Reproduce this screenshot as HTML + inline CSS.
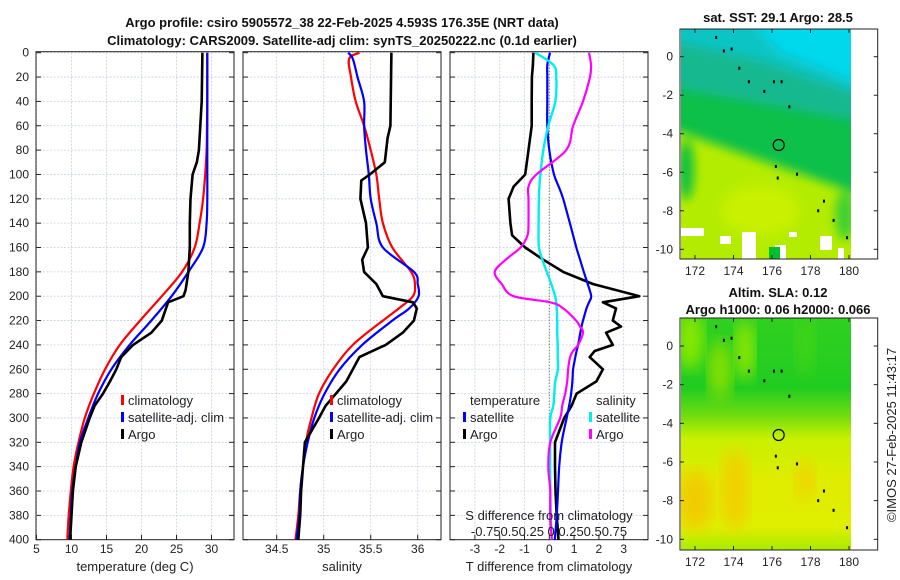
<!DOCTYPE html>
<html><head><meta charset="utf-8">
<style>
html,body{margin:0;padding:0;background:#fff;}
svg{display:block;font-family:"Liberation Sans","DejaVu Sans",sans-serif;}
</style></head>
<body>
<svg id="chart" width="900" height="580" viewBox="0 0 900 580" xmlns="http://www.w3.org/2000/svg">
<defs>
<linearGradient id="slaGrad" x1="0" y1="318" x2="0" y2="550" gradientUnits="userSpaceOnUse">
<stop offset="0" stop-color="#30d020"/>
<stop offset="0.3" stop-color="#20cc20"/>
<stop offset="0.42" stop-color="#70dc10"/>
<stop offset="0.52" stop-color="#c8f000"/>
<stop offset="0.7" stop-color="#e0ec00"/>
<stop offset="0.9" stop-color="#e0ee00"/>
<stop offset="1" stop-color="#a8ec00"/>
</linearGradient>
<filter id="blur8"><feGaussianBlur stdDeviation="8"/></filter>
<filter id="blur5"><feGaussianBlur stdDeviation="5"/></filter>
<clipPath id="clipMap2"><rect x="681" y="318" width="170" height="232"/></clipPath>
<clipPath id="clipMap1"><rect x="681" y="29" width="170" height="230"/></clipPath>
</defs>
<g id="layer"></g>
</svg>
<script>
// ===== Data =====
var depthsT = [0,20,40,60,80,100,120,140,160,180,200,220,240,260,280,300,320,340,360,380,400];
var tempClim = [29.4,29.4,29.4,29.35,29.3,29.1,28.8,28.3,27.6,25.8,22.9,19.8,16.9,14.8,13.2,11.9,11.0,10.3,9.9,9.6,9.4];
var tempSat  = [29.4,29.4,29.4,29.4,29.4,29.4,29.4,29.3,28.8,26.7,24.3,21.4,18.3,15.7,13.8,12.4,11.2,10.6,10.1,9.9,9.7];
var depthsArgoT = [0,40,60,80,90,100,120,140,160,180,195,200,205,220,230,240,250,260,270,280,290,300,320,340,360,380,400];
var tempArgo = [28.7,28.6,28.4,28.2,27.9,27.3,27.0,26.9,26.9,26.7,26.3,26.0,23.8,22.9,21.4,18.8,17.1,16.4,15.5,14.5,13.3,12.6,11.4,10.6,10.2,10.0,9.8];

var depthsS = [0,5,20,40,60,80,100,120,140,160,180,190,200,210,220,240,260,280,300,320,340,360,380,400];
var salClim = [35.38,35.27,35.29,35.34,35.43,35.50,35.56,35.59,35.63,35.73,35.93,35.97,35.95,35.80,35.63,35.31,35.10,34.95,34.87,34.81,34.78,34.75,34.73,34.70];
var salSat  = [35.26,35.31,35.36,35.43,35.43,35.45,35.48,35.50,35.56,35.63,35.96,36.00,36.01,35.91,35.73,35.41,35.17,35.01,34.90,34.83,34.78,34.75,34.74,34.71];
var depthsArgoS = [0,60,70,90,100,105,120,140,160,170,180,190,200,205,210,220,230,240,250,270,290,300,320,340,360,380,400];
var salArgo = [35.72,35.71,35.68,35.65,35.49,35.40,35.39,35.45,35.47,35.41,35.43,35.56,35.63,35.95,35.99,35.96,35.84,35.66,35.38,35.24,35.02,34.95,34.80,34.78,34.76,34.75,34.73];

var depthsD = [0,10,20,40,60,80,100,110,120,140,150,160,170,180,190,200,205,210,220,225,230,240,245,250,260,270,280,290,300,320,340,360,380,400];
var tDiffSat = [0.03,-0.08,-0.08,-0.08,-0.08,0,0.19,0.38,0.56,0.83,0.96,1.09,1.24,1.39,1.55,1.69,1.6,1.5,1.36,1.3,1.25,1.16,1.1,1.05,0.96,0.93,0.88,0.8,0.7,0.5,0.4,0.35,0.3,0.22];
var tDiffArgo = [-0.64,-0.66,-0.70,-0.71,-0.71,-0.84,-0.97,-1.44,-1.64,-1.57,-1.5,-0.97,-0.24,0.56,1.76,3.63,2.16,2.69,2.56,2.89,2.29,2.56,1.83,1.63,2.16,1.9,1.1,0.9,0.6,0.23,0.23,0.25,0.3,0.37];
var sDiffSat = [-0.14,0.04,0.07,0.06,-0.01,-0.06,-0.09,-0.10,-0.105,-0.108,-0.108,-0.105,-0.07,-0.025,0.02,0.058,0.07,0.075,0.08,0.08,0.08,0.085,0.085,0.085,0.087,0.06,0.05,0.04,0.01,0.008,0.008,0.01,0.015,0.025];
var sDiffArgo = [0.40,0.42,0.41,0.34,0.24,0.17,-0.13,-0.21,-0.21,-0.21,-0.22,-0.29,-0.44,-0.55,-0.48,-0.36,0.01,0.14,0.27,0.31,0.34,0.29,0.24,0.21,0.19,0.18,0.16,0.13,0.11,0.01,-0.01,0.01,0.01,0.025];

var depthTicks = [0,20,40,60,80,100,120,140,160,180,200,220,240,260,280,300,320,340,360,380,400];
var tempTicks = [5,10,15,20,25,30];
var salTicks = [34.5,35,35.5,36];
var tDiffTicks = [-3,-2,-1,0,1,2,3];
var mapLonTicks = [172,174,176,178,180];
var mapLatTicks = [0,-2,-4,-6,-8,-10];

// ===== Scales =====
var TOP=52.7, BOT=539.7;
function yD(d){ return TOP + d*(BOT-TOP)/400; }
function xT(t){ return 36.5 + (t-5)*7.0; }
function xS(s){ return 276.7 + (s-34.5)*94; }
function xTd(t){ return 549.3 + t*24.8; }
function xSd(s){ return 549.3 + s*4*24.8; }
function mapX(lon){ return 695 + (lon-172)*(849-695)/8; }
function map1Y(lat){ return 56.7 + (-lat)*(249.3-56.7)/10; }
function map2Y(lat){ return 346 + (-lat)*(539.3-346)/10; }

var NS="http://www.w3.org/2000/svg";
var layer=document.getElementById('layer');
function mk(tag, attrs, parent, text){
  var e=document.createElementNS(NS,tag);
  for(var k in attrs) e.setAttribute(k, attrs[k]);
  if(text!==undefined) e.textContent=text;
  (parent||layer).appendChild(e);
  return e;
}

var panels=[
  {x0:36,x1:234,name:'temperature-panel',ticks:tempTicks,xf:xT,label:'temperature (deg C)'},
  {x0:243,x1:441,name:'salinity-panel',ticks:salTicks,xf:xS,label:'salinity'},
  {x0:450,x1:648,name:'difference-panel',ticks:tDiffTicks,xf:xTd,label:'T difference from climatology'}
];

panels.forEach(function(p,pi){
  var g=mk('g',{});
  
  
  depthTicks.forEach(function(d){
    var l=mk('line',{x1:p.x0,x2:p.x1,y1:yD(d),y2:yD(d),stroke:'#c8d0e8','stroke-width':0.8,'stroke-dasharray':'2,1.5'},g);
    
    
    var t1=mk('line',{x1:p.x0,x2:p.x0+5,y1:yD(d),y2:yD(d),stroke:'#222','stroke-width':1},g);
    
    
    var t2=mk('line',{x1:p.x1-5,x2:p.x1,y1:yD(d),y2:yD(d),stroke:'#222','stroke-width':1},g);
    
    
  });
  p.ticks.forEach(function(v){
    var x=p.xf(v);
    var gl=mk('line',{x1:x,x2:x,y1:TOP,y2:BOT,stroke:'#c8d0e8','stroke-width':0.8,'stroke-dasharray':'2,1.5'},g);
    
    
    var tk=mk('line',{x1:x,x2:x,y1:BOT,y2:BOT-5,stroke:'#222','stroke-width':1},g);
    
    
    var tl=mk('text',{x:x,y:553,'font-size':12,'text-anchor':'middle',fill:'#222'},g,String(v));
    
    
  });
  var fr=mk('rect',{x:p.x0,y:TOP-1,width:p.x1-p.x0,height:BOT-TOP+1,fill:'none',stroke:'#222','stroke-width':1},g);
  
  
  var xl=mk('text',{x:(p.x0+p.x1)/2,y:571,'font-size':13,'text-anchor':'middle',fill:'#222'},g,p.label);
  
  
});

depthTicks.forEach(function(d){
  var t=mk('text',{x:29,y:yD(d)+4,'font-size':12,'text-anchor':'end',fill:'#222'},layer,String(d));
  
  
});
var zl=mk('line',{x1:xTd(0),x2:xTd(0),y1:TOP,y2:BOT,stroke:'#555','stroke-width':1,'stroke-dasharray':'1,2'});



function drawLine(vals,depths,xf,color,w,name,smooth){
  var pts=[];
  for(var i=0;i<vals.length;i++) pts.push([xf(vals[i]),yD(depths[i])]);
  var d='M'+pts[0][0].toFixed(1)+','+pts[0][1].toFixed(1);
  for(var i=1;i<pts.length;i++){
    if(smooth){
      var p0=pts[Math.max(0,i-2)],p1=pts[i-1],p2=pts[i],p3=pts[Math.min(pts.length-1,i+1)];
      var c1x=p1[0]+(p2[0]-p0[0])/6,c1y=p1[1]+(p2[1]-p0[1])/6;
      var c2x=p2[0]-(p3[0]-p1[0])/6,c2y=p2[1]-(p3[1]-p1[1])/6;
      d+='C'+c1x.toFixed(1)+','+c1y.toFixed(1)+' '+c2x.toFixed(1)+','+c2y.toFixed(1)+' '+p2[0].toFixed(1)+','+p2[1].toFixed(1);
    } else d+='L'+pts[i][0].toFixed(1)+','+pts[i][1].toFixed(1);
  }
  var p=mk('path',{d:d,fill:'none',stroke:color,'stroke-width':w,'stroke-linejoin':'round'});
  
  
}
drawLine(tempClim,depthsT,xT,'#ff0000',2.2,'temp-climatology-line',true);
drawLine(tempSat,depthsT,xT,'#0000ff',2.2,'temp-satellite-line',true);
drawLine(tempArgo,depthsArgoT,xT,'#000',2.6,'temp-argo-line',false);
drawLine(salClim,depthsS,xS,'#ff0000',2.2,'sal-climatology-line',true);
drawLine(salSat,depthsS,xS,'#0000ff',2.2,'sal-satellite-line',true);
drawLine(salArgo,depthsArgoS,xS,'#000',2.6,'sal-argo-line',false);
drawLine(tDiffArgo,depthsD,xTd,'#000',2.6,'tdiff-argo-line',false);
drawLine(tDiffSat,depthsD,xTd,'#0000ff',2.2,'tdiff-satellite-line',true);
drawLine(sDiffSat,depthsD,xSd,'#00eeee',2.4,'sdiff-satellite-line',true);
drawLine(sDiffArgo,depthsD,xSd,'#ff00ff',2.2,'sdiff-argo-line',true);

function legendEntry(x,y,color,label,name){
  var g=mk('g',{});
  
  
  mk('rect',{x:x,y:y-10,width:3,height:10,fill:color},g);
  mk('text',{x:x+7,y:y,'font-size':13,fill:'#222'},g,label);
}
legendEntry(121,405,'#ff0000','climatology','legend-entry-climatology');
legendEntry(121,422,'#0000ff','satellite-adj. clim','legend-entry-satellite');
legendEntry(121,439,'#000','Argo','legend-entry-argo');
legendEntry(330,405,'#ff0000','climatology','legend-entry-climatology');
legendEntry(330,422,'#0000ff','satellite-adj. clim','legend-entry-satellite');
legendEntry(330,439,'#000','Argo','legend-entry-argo');
var lt=mk('text',{x:470,y:405,'font-size':13,fill:'#222'},layer,'temperature');


var ls=mk('text',{x:596,y:405,'font-size':13,fill:'#222'},layer,'salinity');


legendEntry(463,422,'#0000ff','satellite','legend-entry-t-satellite');
legendEntry(463,439,'#000','Argo','legend-entry-t-argo');
legendEntry(589,422,'#00eeee','satellite','legend-entry-s-satellite');
legendEntry(589,439,'#ff00ff','Argo','legend-entry-s-argo');
var sa=mk('text',{x:549,y:520,'font-size':13,'text-anchor':'middle',fill:'#222'},layer,'S difference from climatology');


var sl=mk('text',{x:549,y:536,'font-size':13,'text-anchor':'middle',fill:'#222'},layer,'-0.750.50.25 0 0.250.50.75');



var t1=mk('text',{x:342,y:27,'font-size':13,'font-weight':'bold','text-anchor':'middle',fill:'#111'},layer,'Argo profile: csiro 5905572_38 22-Feb-2025 4.593S 176.35E (NRT data)');


var t2=mk('text',{x:342,y:45,'font-size':13,'font-weight':'bold','text-anchor':'middle',fill:'#111'},layer,'Climatology: CARS2009. Satellite-adj clim: synTS_20250222.nc (0.1d earlier)');



// ===== Maps =====
var m1=mk('g',{});


var c1=mk('g',{'clip-path':'url(#clipMap1)'},m1);
mk('rect',{x:681,y:29,width:170,height:230,fill:'#b4ec00'},c1);
var bl=mk('g',{filter:'url(#blur5)'},c1);
mk('polygon',{points:'660,10 870,10 870,198 660,125',fill:'#08c048'},bl);
mk('polygon',{points:'660,10 870,10 870,122 660,85',fill:'#14b890'},bl);
mk('polygon',{points:'660,10 870,10 870,98 760,60 660,38',fill:'#10c4c4'},bl);
mk('polygon',{points:'740,10 870,10 870,88 780,52',fill:'#00d8ec'},bl);
mk('ellipse',{cx:686,cy:170,rx:8,ry:30,fill:'#10c040'},bl);
mk('ellipse',{cx:845,cy:215,rx:10,ry:25,fill:'#40d030'},bl);
mk('ellipse',{cx:760,cy:210,rx:40,ry:25,fill:'#c8f000'},bl);
mk('rect',{x:681,y:228,width:23,height:8,fill:'#fff'},c1);
mk('rect',{x:720,y:236,width:11,height:8,fill:'#fff'},c1);
mk('rect',{x:742,y:232,width:14,height:27,fill:'#fff'},c1);
mk('rect',{x:775,y:245,width:11,height:14,fill:'#fff'},c1);
mk('rect',{x:789,y:232,width:8,height:5,fill:'#fff'},c1);
mk('rect',{x:820,y:236,width:12,height:14,fill:'#fff'},c1);
mk('rect',{x:838,y:248,width:6,height:11,fill:'#fff'},c1);
mk('rect',{x:769,y:247,width:11,height:12,fill:'#00c030'},c1);
var ci1=mk('circle',{cx:778.7,cy:145,r:5.5,fill:'none',stroke:'#000','stroke-width':1.2},m1);


mk('rect',{x:680,y:29,width:197.7,height:230,fill:'none',stroke:'#222','stroke-width':1},m1);
var m1t=mk('text',{x:778,y:22,'font-size':13,'font-weight':'bold','text-anchor':'middle',fill:'#111'},layer,'sat. SST: 29.1 Argo: 28.5');



var m2=mk('g',{});


mk('rect',{x:681,y:318,width:170,height:232,fill:'url(#slaGrad)'},m2);
var c2=mk('g',{'clip-path':'url(#clipMap2)'},m2);
mk('ellipse',{cx:690,cy:340,rx:14,ry:30,fill:'#88e800',filter:'url(#blur8)'},c2);
mk('ellipse',{cx:720,cy:370,rx:12,ry:30,fill:'#88e000',filter:'url(#blur8)'},c2);
mk('ellipse',{cx:745,cy:350,rx:10,ry:30,fill:'#90e800',filter:'url(#blur8)'},c2);
mk('ellipse',{cx:805,cy:345,rx:10,ry:30,fill:'#40d418',filter:'url(#blur8)'},c2);
mk('ellipse',{cx:695,cy:500,rx:18,ry:30,fill:'#f0cc00',filter:'url(#blur8)'},c2);
mk('ellipse',{cx:735,cy:490,rx:14,ry:40,fill:'#f0d000',filter:'url(#blur8)'},c2);
mk('ellipse',{cx:805,cy:480,rx:10,ry:20,fill:'#eed400',filter:'url(#blur8)'},c2);
var ci2=mk('circle',{cx:778.7,cy:435,r:5.5,fill:'none',stroke:'#000','stroke-width':1.2},m2);


mk('rect',{x:680,y:318,width:197.7,height:232,fill:'none',stroke:'#222','stroke-width':1},m2);
var m2a=mk('text',{x:778,y:297,'font-size':13,'font-weight':'bold','text-anchor':'middle',fill:'#111'},layer,'Altim. SLA: 0.12');


var m2b=mk('text',{x:778,y:314,'font-size':13,'font-weight':'bold','text-anchor':'middle',fill:'#111'},layer,'Argo h1000: 0.06 h2000: 0.066');



var islandLon=[173.1,173.5,173.9,174.3,174.8,175.6,176.1,176.5,176.9,176.2,176.3,177.3,178.4,178.7,179.2,179.9];
var islandLat=[1.0,0.3,0.4,-0.6,-1.3,-1.8,-1.3,-1.3,-2.6,-5.7,-6.3,-6.1,-8.0,-7.5,-8.5,-9.4];
[[m1,map1Y],[m2,map2Y]].forEach(function(pr){
  islandLon.forEach(function(lon,i){
    var s=mk('rect',{x:mapX(lon)-1,y:pr[1](islandLat[i])-1.5,width:2,height:3,fill:'#000'},pr[0]);
    
    
  });
});

[[29,259,map1Y,'sst'],[318,550,map2Y,'sla']].forEach(function(m){
  mapLatTicks.forEach(function(lat){
    var y=m[2](lat);
    mk('line',{x1:680,x2:684,y1:y,y2:y,stroke:'#222'});
    mk('line',{x1:873.7,x2:877.7,y1:y,y2:y,stroke:'#222'});
    var t=mk('text',{x:673,y:y+4,'font-size':12,'text-anchor':'end',fill:'#222'},layer,String(lat));
    
    
  });
  mapLonTicks.forEach(function(lon){
    var x=mapX(lon);
    mk('line',{x1:x,x2:x,y1:m[1],y2:m[1]-4,stroke:'#222'});
    mk('line',{x1:x,x2:x,y1:m[0],y2:m[0]+4,stroke:'#222'});
    var t=mk('text',{x:x,y:m[1]+16,'font-size':12,'text-anchor':'middle',fill:'#222'},layer,String(lon));
    
    
  });
});

var cp=mk('text',{x:0,y:0,'font-size':13,'text-anchor':'middle',fill:'#222',transform:'translate(896,435) rotate(-90)'},layer,'\u00A9IMOS 27-Feb-2025 11:43:17');


</script>
</body></html>
